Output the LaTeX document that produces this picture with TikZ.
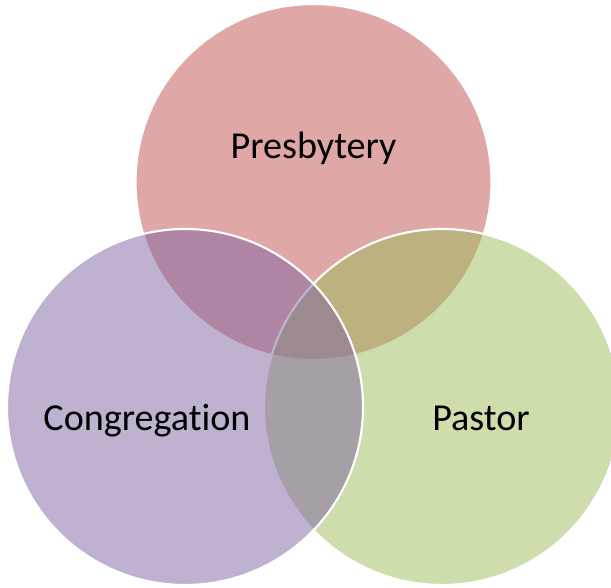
\documentclass[tikz,border=0pt]{standalone}
\usepackage{fontspec}
\setmainfont[Ligatures=NoCommon]{Carlito}
\definecolor{vred}{HTML}{C0504D}
\definecolor{vgreen}{HTML}{9BBB59}
\definecolor{vpurple}{HTML}{8064A2}
\begin{document}
\begin{tikzpicture}[x=0.75pt,y=-0.75pt,
  vcircle/.style={circle, minimum size=356*0.75pt, inner sep=0pt, draw=white, line width=1.6pt, fill opacity=0.5},
  vlabel/.style={anchor=base, font=\fontsize{28.6}{34}\selectfont, text=black}]
\useasboundingbox (0,0) rectangle (611,588);
\node[vcircle, fill=vred] (pres) at (313.5,182) {};
\node[vcircle, fill=vgreen] (past) at (442,407) {};
\node[vcircle, fill=vpurple] (cong) at (185,407) {};
\node[vlabel] (tpres) at (313.5,159) {Presbytery};
\node[vlabel] (tcong) at (147,430) {Congregation};
\node[vlabel] (tpast) at (481,430) {Pastor};
\end{tikzpicture}
\end{document}
